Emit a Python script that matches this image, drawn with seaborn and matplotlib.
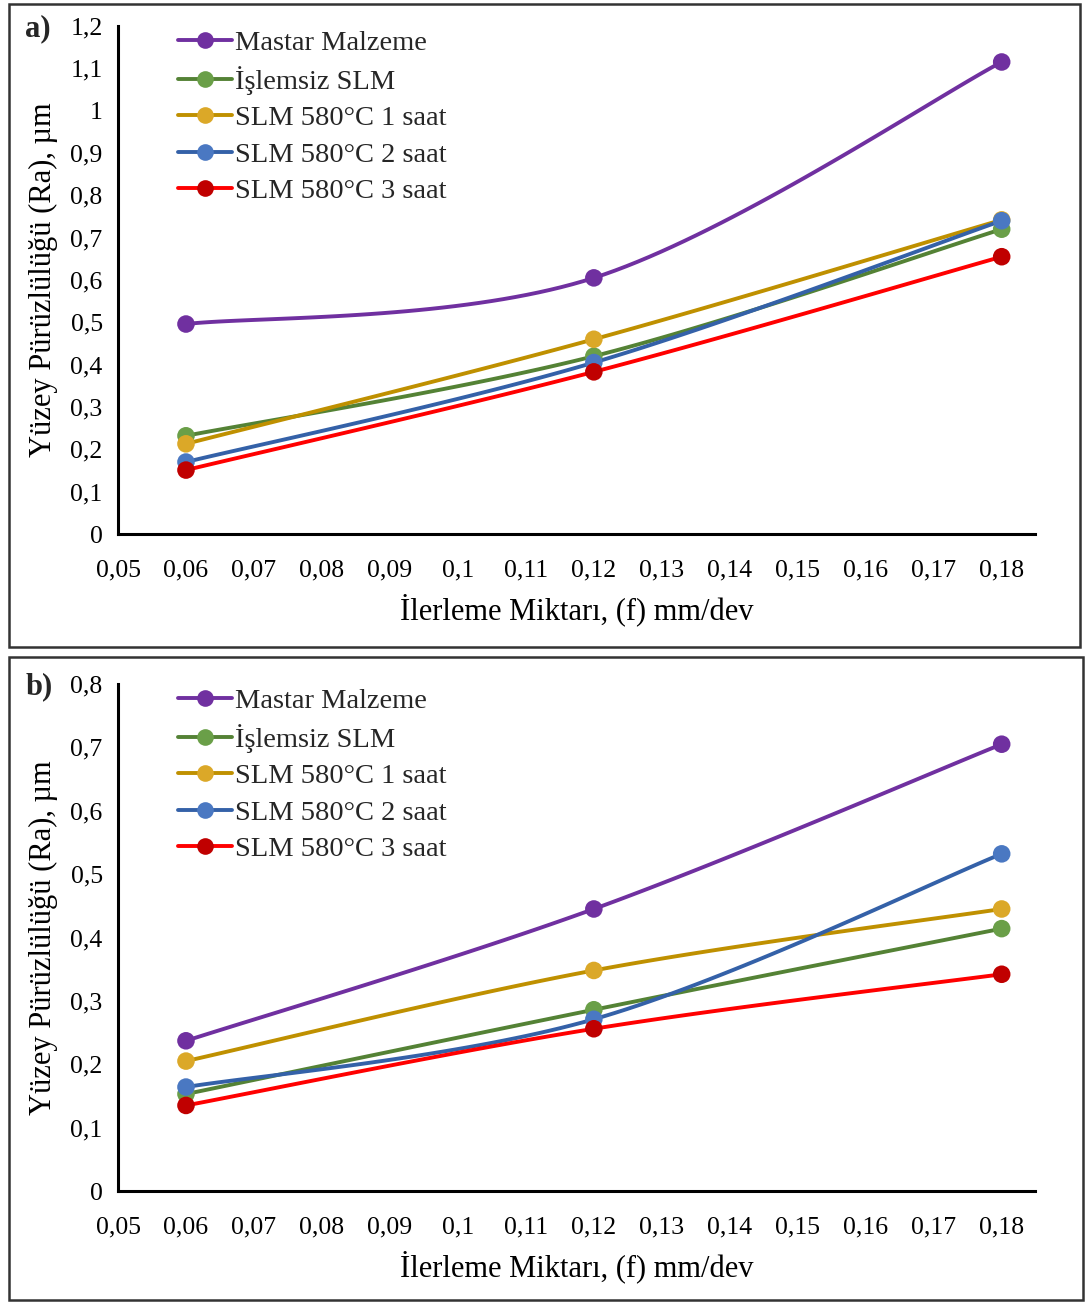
import numpy as np
import pandas as pd
import seaborn as sns
import matplotlib.pyplot as plt
from matplotlib.lines import Line2D
from matplotlib.patches import Rectangle
from matplotlib.ticker import FuncFormatter, MultipleLocator

# data
feed = [0.06, 0.12, 0.18]
series = ['Mastar Malzeme', 'İşlemsiz SLM', 'SLM 580°C 1 saat',
          'SLM 580°C 2 saat', 'SLM 580°C 3 saat']

ra_a_mastar = [0.496, 0.605, 1.115]
ra_a_islemsiz = [0.232, 0.420, 0.720]
ra_a_1saat = [0.213, 0.460, 0.742]
ra_a_2saat = [0.170, 0.405, 0.740]
ra_a_3saat = [0.151, 0.383, 0.655]

ra_b_mastar = [0.237, 0.445, 0.705]
ra_b_islemsiz = [0.153, 0.286, 0.414]
ra_b_1saat = [0.205, 0.348, 0.445]
ra_b_2saat = [0.164, 0.271, 0.532]
ra_b_3saat = [0.135, 0.256, 0.342]

line_colors = ['#7030A0', '#548235', '#BF9000', '#3461A8', '#FF0000']
marker_colors = ['#7030A0', '#6A9F48', '#DBA828', '#4A78C2', '#C00000']

sns.set_theme(style='white')
plt.rcParams['font.family'] = ['Liberation Serif', 'DejaVu Serif']


def excel_smooth(x, y, n=40):
    # bezier smoothing like Excel's "smoothed line"
    pts = np.column_stack([x, y])
    out = []
    for i in range(len(pts) - 1):
        p0 = pts[i - 1] if i > 0 else pts[i]
        p1, p2 = pts[i], pts[i + 1]
        p3 = pts[i + 2] if i + 2 < len(pts) else pts[i + 1]
        c1 = p1 + (p2 - p0) / 6
        c2 = p2 - (p3 - p1) / 6
        t = np.linspace(0, 1, n)[:, None]
        seg = (1 - t) ** 3 * p1 + 3 * (1 - t) ** 2 * t * c1 + 3 * (1 - t) * t ** 2 * c2 + t ** 3 * p2
        out.append(seg if i == 0 else seg[1:])
    return np.vstack(out)


def comma(v, pos):
    return ('%g' % round(v, 3)).replace('.', ',')


def draw_panel(ax, values, ymax, tag):
    for name, vals, lc, mc in zip(series, values, line_colors, marker_colors):
        curve = excel_smooth(feed, vals)
        cdf = pd.DataFrame({'x': curve[:, 0], 'y': curve[:, 1]})
        sns.lineplot(data=cdf, x='x', y='y', ax=ax, color=lc, linewidth=2.8,
                     sort=False, estimator=None, zorder=2)
        pdf = pd.DataFrame({'x': feed, 'y': vals})
        sns.scatterplot(data=pdf, x='x', y='y', ax=ax, color=mc, s=160,
                        edgecolor='none', zorder=3)
    ax.set_xlim(0.05, 0.1849)
    ax.set_ylim(0, ymax)
    ax.yaxis.set_major_locator(MultipleLocator(0.1))
    ax.xaxis.set_major_formatter(FuncFormatter(comma))
    ax.yaxis.set_major_formatter(FuncFormatter(comma))
    ax.set_xticks(np.round(np.arange(0.05, 0.1801, 0.01), 2))
    for s in ['top', 'right']:
        ax.spines[s].set_visible(False)
    for s in ['left', 'bottom']:
        ax.spines[s].set_color('black')
        ax.spines[s].set_linewidth(2.2)
    ax.tick_params(axis='both', direction='out', length=7, width=2.2,
                   color='black', labelsize=18.5, labelcolor='black', pad=4)
    ax.tick_params(axis='x', pad=11)
    ax.set_xlabel('İlerleme Miktarı, (f) mm/dev', fontsize=22, color='black', labelpad=9)
    ax.set_ylabel('Yüzey Pürüzlülüğü (Ra), µm', fontsize=22, color='black', labelpad=9)
    ax.grid(False)
    handles = [Line2D([], [], color=lc, linewidth=2.8, marker='o', markersize=12,
                      markerfacecolor=mc, markeredgecolor='none')
               for lc, mc in zip(line_colors, marker_colors)]
    ax.legend(handles, series, loc='upper left', bbox_to_anchor=(0.065, 0.992),
              frameon=False, fontsize=20.5, handlelength=1.9, handletextpad=0.1,
              labelspacing=0.36, borderaxespad=0, borderpad=0)
    ax.text(-0.101, 0.995, tag, transform=ax.transAxes, fontsize=22,
            fontweight='bold', ha='left', va='center')


W, H = 1086, 1303
fig = plt.figure(figsize=(W / 100, H / 100), dpi=100)

ax1 = fig.add_axes([118 / W, 1 - 534 / H, 917 / W, 508 / H])
ax2 = fig.add_axes([118 / W, 1 - 1191 / H, 917 / W, 507 / H])

draw_panel(ax1, [ra_a_mastar, ra_a_islemsiz, ra_a_1saat, ra_a_2saat, ra_a_3saat], 1.2, 'a)')
draw_panel(ax2, [ra_b_mastar, ra_b_islemsiz, ra_b_1saat, ra_b_2saat, ra_b_3saat], 0.8, 'b)')

# panel frames
fig.patches.append(Rectangle((9 / W, 1 - 647 / H), 1071 / W, 643 / H, transform=fig.transFigure,
                             fill=False, edgecolor='#333333', linewidth=1.8))
fig.patches.append(Rectangle((9 / W, 1 - 1300 / H), 1074 / W, 643 / H, transform=fig.transFigure,
                             fill=False, edgecolor='#333333', linewidth=1.8))

fig.savefig('out.png', dpi=100)
